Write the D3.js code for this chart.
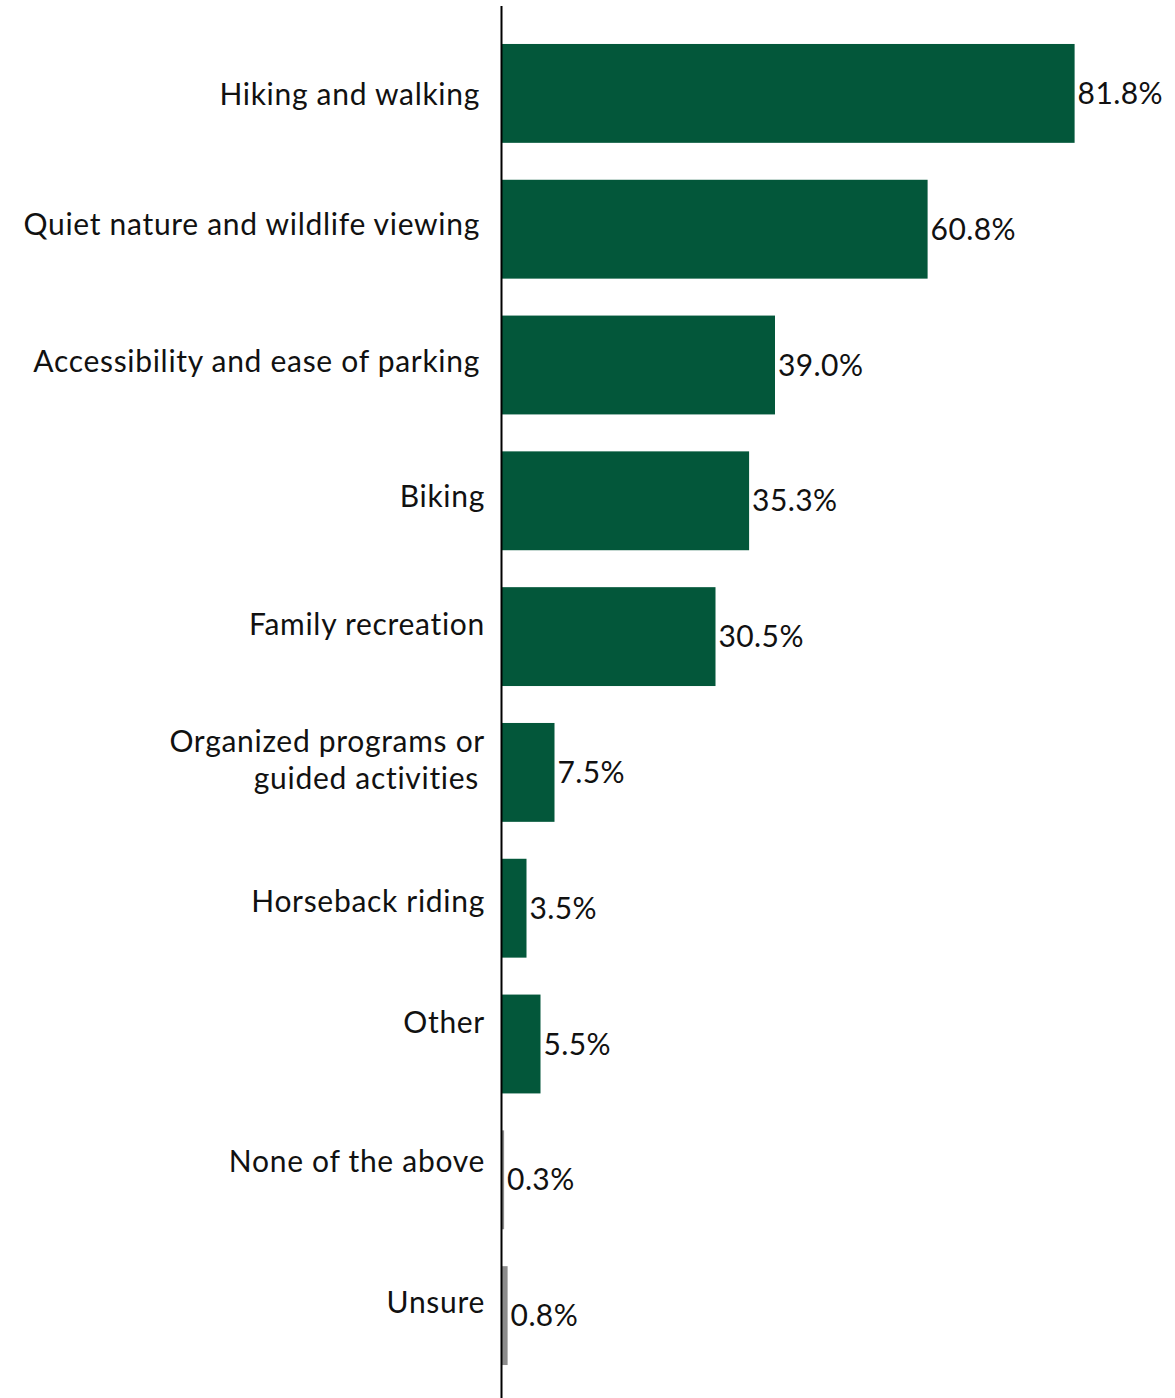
<!DOCTYPE html>
<html>
<head>
<meta charset="utf-8">
<script src="https://cdn.jsdelivr.net/npm/d3@7"></script>
<style>
  html, body { margin: 0; padding: 0; background: #fff; }
  svg text { font-family: Lato, "Open Sans", sans-serif; fill: #111; font-variant-ligatures: none; }
</style>
</head>
<body>
<svg id="chart" width="1175" height="1398"></svg>
<script>
// Survey responses: activities people value most (percent of respondents)
const categories = [
  "Hiking and walking",
  "Quiet nature and wildlife viewing",
  "Accessibility and ease of parking",
  "Biking",
  "Family recreation",
  "Organized programs or|guided activities",
  "Horseback riding",
  "Other",
  "None of the above",
  "Unsure"
];
const values = [81.8, 60.8, 39.0, 35.3, 30.5, 7.5, 3.5, 5.5, 0.3, 0.8];
const valueLabels = ["81.8%", "60.8%", "39.0%", "35.3%", "30.5%", "7.5%", "3.5%", "5.5%", "0.3%", "0.8%"];
// responses that name no activity are shown in grey
const substantive = [true, true, true, true, true, true, true, true, false, false];

// small hand nudges for the category text (dx, dy in px)
const labelNudge = [[-5, 1], [-5, -5], [-5, -4], [0, -4], [0, -12], [0, -12], [0, -7], [0, -22], [0, -18], [0, -13]];

const svg = d3.select("#chart");
const x0 = 502;

const x = d3.scaleLinear().domain([0, 100]).range([x0, x0 + 700]);
const y = d3.scaleBand()
  .domain(categories)
  .range([25.5, 1383.5])
  .paddingInner(0.272)
  .paddingOuter(0.136);

const green = "#03573a";
const grey = "#8c8c8c";

// bars
svg.append("g").selectAll("rect")
  .data(categories)
  .join("rect")
  .attr("x", x(0))
  .attr("y", d => y(d))
  .attr("width", (d, i) => x(values[i]) - x(0))
  .attr("height", y.bandwidth())
  .attr("fill", (d, i) => substantive[i] ? green : grey);

// value labels at bar ends
svg.append("g").selectAll("text")
  .data(categories)
  .join("text")
  .attr("x", (d, i) => x(values[i]) + 3)
  .attr("y", (d, i) => y(d) + y.bandwidth() / 2)
  .attr("dy", "0.35em")
  .attr("font-size", 30)
  .attr("letter-spacing", 0.4)
  .attr("text-anchor", "start")
  .text((d, i) => valueLabels[i]);

// category labels
const lab = svg.append("g").selectAll("text")
  .data(categories)
  .join("text")
  .attr("x", (d, i) => 485 + labelNudge[i][0])
  .attr("y", (d, i) => y(d) + y.bandwidth() / 2 + labelNudge[i][1])
  .attr("font-size", 30)
  .attr("letter-spacing", 0.7)
  .attr("text-anchor", "end");

lab.each(function(d) {
  const lines = d.split("|");
  const t = d3.select(this);
  const lh = 37;
  lines.forEach((ln, k) => {
    t.append("tspan")
      .attr("x", t.attr("x") - (k > 0 ? 6 : 0))
      .attr("dy", k === 0 ? (0.35 * 30 - (lines.length - 1) * lh / 2) : lh)
      .text(ln);
  });
});

// vertical category axis
svg.append("line")
  .attr("x1", x0 - 0.5).attr("x2", x0 - 0.5)
  .attr("y1", 6).attr("y2", 1398)
  .attr("stroke", "#000")
  .attr("stroke-width", 2);
</script>
</body>
</html>
